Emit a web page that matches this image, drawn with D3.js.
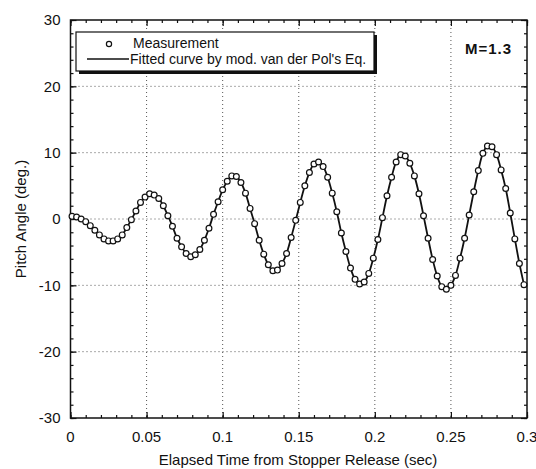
<!DOCTYPE html>
<html>
<head>
<meta charset="utf-8">
<script src="https://cdn.jsdelivr.net/npm/d3@7"></script>
<style>
body { margin: 0; background: #fff; }
text { font-family: "Liberation Sans", Arial, sans-serif; fill: #111; }
</style>
</head>
<body>
<div id="chart"></div>
<script>
// measured pitch angle, sampled every 0.003 s
var time = [0.001, 0.004, 0.007, 0.010, 0.013, 0.016, 0.019, 0.022, 0.025, 0.028,
 0.031, 0.034, 0.037, 0.040, 0.043, 0.046, 0.049, 0.052, 0.055, 0.058,
 0.061, 0.064, 0.067, 0.070, 0.073, 0.076, 0.079, 0.082, 0.085, 0.088,
 0.091, 0.094, 0.097, 0.100, 0.103, 0.106, 0.109, 0.112, 0.115, 0.118,
 0.121, 0.124, 0.127, 0.130, 0.133, 0.136, 0.139, 0.142, 0.145, 0.148,
 0.151, 0.154, 0.157, 0.160, 0.163, 0.166, 0.169, 0.172, 0.175, 0.178,
 0.181, 0.184, 0.187, 0.190, 0.193, 0.196, 0.199, 0.202, 0.205, 0.208,
 0.211, 0.214, 0.217, 0.220, 0.223, 0.226, 0.229, 0.232, 0.235, 0.238,
 0.241, 0.244, 0.247, 0.250, 0.253, 0.256, 0.259, 0.262, 0.265, 0.268,
 0.271, 0.274, 0.277, 0.280, 0.283, 0.286, 0.289, 0.292, 0.295, 0.298]

var pitch = [0.4, 0.3, 0.0, -0.4, -1.0, -1.7, -2.4, -3.0, -3.3, -3.3,
 -3.0, -2.4, -1.3, -0.1, 1.2, 2.5, 3.3, 3.8, 3.6, 3.1,
 2.0, 0.5, -1.1, -2.9, -4.2, -5.2, -5.7, -5.4, -4.6, -3.2,
 -1.4, 0.7, 2.6, 4.4, 5.7, 6.5, 6.4, 5.5, 3.9, 1.6,
 -0.7, -3.2, -5.3, -6.9, -7.8, -7.7, -6.7, -5.2, -2.8, -0.2,
 2.5, 5.0, 7.0, 8.3, 8.6, 7.9, 6.3, 3.9, 1.1, -2.1,
 -4.9, -7.4, -9.1, -9.8, -9.5, -8.2, -5.9, -3.1, 0.2, 3.5,
 6.3, 8.6, 9.7, 9.5, 8.4, 6.5, 3.8, 0.5, -2.9, -6.1,
 -8.6, -10.2, -10.6, -10.0, -8.5, -5.9, -2.9, 0.6, 4.1, 7.3,
 9.9, 11.0, 10.9, 9.7, 7.4, 4.6, 0.9, -3.0, -6.7, -9.9]

var xTicks = [0, 0.05, 0.1, 0.15, 0.2, 0.25, 0.3]
var yTicks = [-30, -20, -10, 0, 10, 20, 30]
var legendLabels = ['Measurement', "Fitted curve by mod. van der Pol's Eq."]
var caseLabel = 'M=1.3'

var W = 536, H = 469
var pL = 70.5, pR = 527, pT = 20, pB = 418

var svg = d3.select('#chart').append('svg')
  .attr('width', W)
  .attr('height', H)

var x = d3.scaleLinear().domain([0, 0.3]).range([pL, pR])
var y = d3.scaleLinear().domain([-30, 30]).range([pB, pT])

// dotted grid
var grid = svg.append('g').attr('stroke', '#555').attr('stroke-dasharray', '1,3').attr('stroke-width', 1)
grid.selectAll('.gx').data(xTicks.slice(1, -1)).enter().append('line')
  .attr('x1', d => x(d)).attr('x2', d => x(d))
  .attr('y1', pT).attr('y2', pB)
grid.selectAll('.gy').data(yTicks.slice(1, -1)).enter().append('line')
  .attr('y1', d => y(d)).attr('y2', d => y(d))
  .attr('x1', pL).attr('x2', pR)

// inward ticks on all four sides
var xMinor = d3.range(0, 31).map(d => d / 100)
var yMinor = d3.range(-30, 31, 2)

svg.append('g').attr('transform', 'translate(0,' + pB + ')')
  .call(d3.axisTop(x).tickValues(xMinor).tickSize(3).tickFormat(''))
svg.append('g').attr('transform', 'translate(0,' + pB + ')')
  .call(d3.axisTop(x).tickValues(xTicks).tickSize(6).tickFormat(''))
svg.append('g').attr('transform', 'translate(0,' + pT + ')')
  .call(d3.axisBottom(x).tickValues(xMinor).tickSize(3).tickFormat(''))
svg.append('g').attr('transform', 'translate(0,' + pT + ')')
  .call(d3.axisBottom(x).tickValues(xTicks).tickSize(6).tickFormat(''))
svg.append('g').attr('transform', 'translate(' + pL + ',0)')
  .call(d3.axisRight(y).tickValues(yMinor).tickSize(3).tickFormat(''))
svg.append('g').attr('transform', 'translate(' + pL + ',0)')
  .call(d3.axisRight(y).tickValues(yTicks).tickSize(6).tickFormat(''))
svg.append('g').attr('transform', 'translate(' + pR + ',0)')
  .call(d3.axisLeft(y).tickValues(yMinor).tickSize(3).tickFormat(''))
svg.append('g').attr('transform', 'translate(' + pR + ',0)')
  .call(d3.axisLeft(y).tickValues(yTicks).tickSize(6).tickFormat(''))
svg.selectAll('.domain').remove()
svg.selectAll('.tick line').attr('stroke', '#111').attr('stroke-width', 1.2)

// frame
svg.append('rect')
  .attr('x', pL).attr('y', pT)
  .attr('width', pR - pL).attr('height', pB - pT)
  .attr('fill', 'none').attr('stroke', '#111').attr('stroke-width', 1.5)

// tick labels
svg.selectAll('.xl').data(xTicks).enter().append('text')
  .attr('x', d => x(d)).attr('y', pB + 24)
  .attr('text-anchor', 'middle')
  .style('font-size', '15px')
  .text(d => d)
svg.selectAll('.yl').data(yTicks).enter().append('text')
  .attr('x', pL - 10).attr('y', d => y(d)).attr('dy', '0.35em')
  .attr('text-anchor', 'end')
  .style('font-size', '15px')
  .text(d => d)

// axis titles
svg.append('text')
  .attr('x', 298).attr('y', 465)
  .attr('text-anchor', 'middle')
  .style('font-size', '15px')
  .text('Elapsed Time from Stopper Release (sec)')
svg.append('text')
  .attr('transform', 'translate(26,' + y(0) + ') rotate(-90)')
  .attr('text-anchor', 'middle')
  .style('font-size', '15px')
  .text('Pitch Angle (deg.)')

// fitted curve and measurements
var line = d3.line()
  .x((d, i) => x(time[i]))
  .y(d => y(d))
  .curve(d3.curveCatmullRom)
svg.append('path')
  .datum(pitch)
  .attr('d', line)
  .attr('fill', 'none')
  .attr('stroke', '#111')
  .attr('stroke-width', 1.8)

svg.selectAll('.pt').data(pitch).enter().append('circle')
  .attr('cx', (d, i) => x(time[i]))
  .attr('cy', d => y(d))
  .attr('r', 2.9)
  .attr('fill', '#fff')
  .attr('stroke', '#111')
  .attr('stroke-width', 1.2)

// legend with shadow
svg.append('rect')
  .attr('x', 79).attr('y', 35).attr('width', 298).attr('height', 39)
  .attr('fill', '#111')
svg.append('rect')
  .attr('x', 76).attr('y', 32).attr('width', 298).attr('height', 39)
  .attr('fill', '#fff').attr('stroke', '#111').attr('stroke-width', 1.2)
svg.append('circle')
  .attr('cx', 109).attr('cy', 44).attr('r', 2.6)
  .attr('fill', '#fff').attr('stroke', '#111').attr('stroke-width', 1.2)
svg.append('text')
  .attr('x', 133).attr('y', 48)
  .style('font-size', '14px')
  .text(legendLabels[0])
svg.append('line')
  .attr('x1', 87).attr('x2', 129).attr('y1', 59).attr('y2', 59)
  .attr('stroke', '#111').attr('stroke-width', 1.6)
svg.append('text')
  .attr('x', 130).attr('y', 64)
  .style('font-size', '14px')
  .text(legendLabels[1])

svg.append('text')
  .attr('x', 465).attr('y', 54)
  .style('font-size', '15px')
  .style('font-weight', 'bold')
  .style('letter-spacing', '1px')
  .text(caseLabel)
</script>
</body>
</html>
